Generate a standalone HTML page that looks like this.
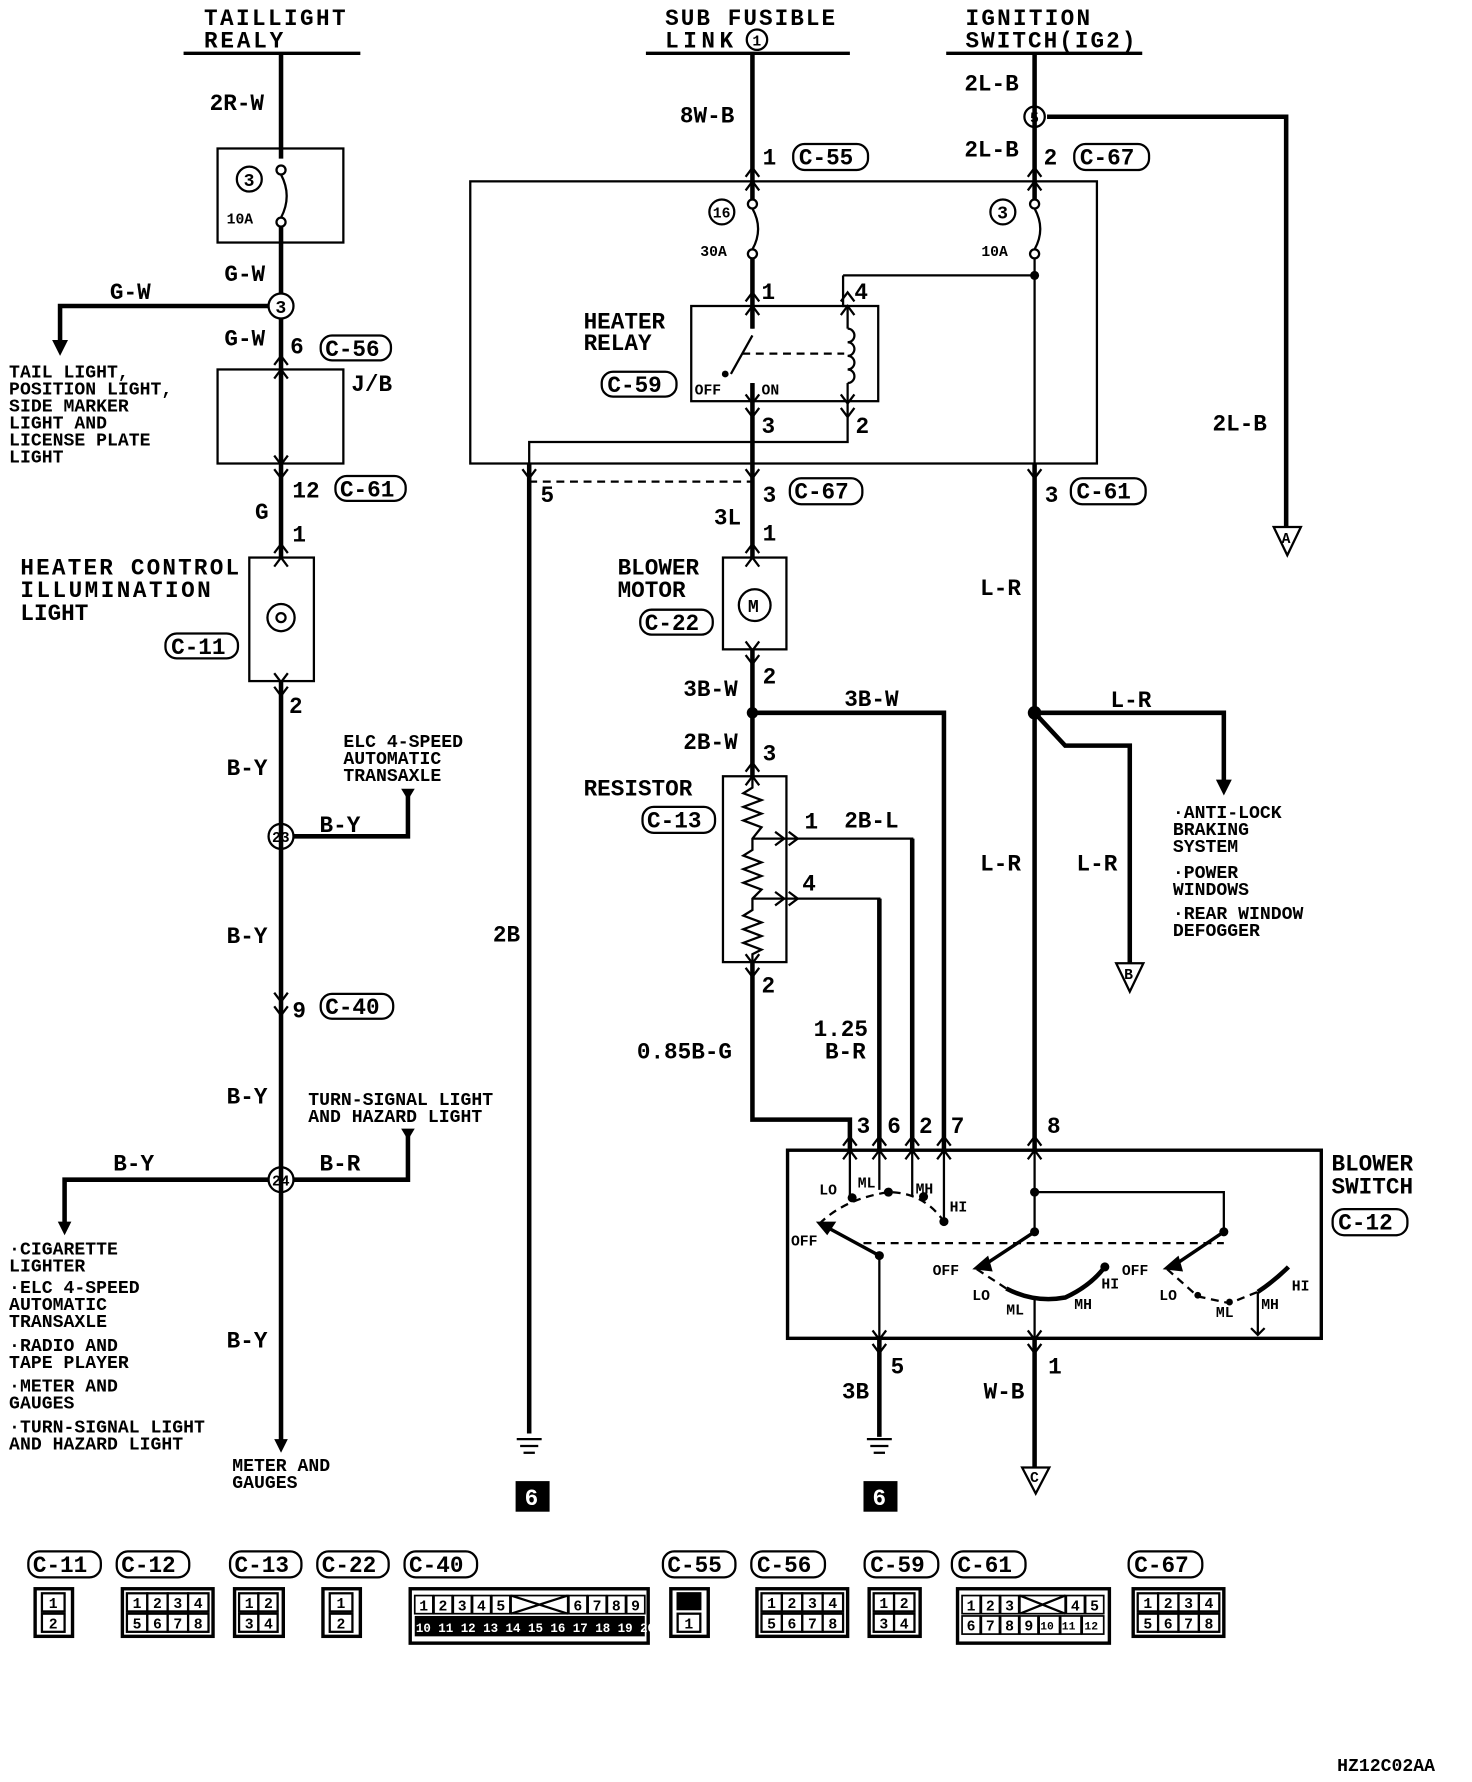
<!DOCTYPE html>
<html><head><meta charset="utf-8"><style>
html,body{margin:0;padding:0;background:#fff;}
svg{display:block;}
text{font-family:"Liberation Mono",monospace;font-weight:bold;fill:#000;}
.t{font-size:20px;}
.s{font-size:16px;}
.xs{font-size:13px;}
.w{stroke:#000;stroke-width:4;fill:none;}
.n{stroke:#000;stroke-width:2;fill:none;}
.d{stroke:#000;stroke-width:2;fill:none;stroke-dasharray:7 5;}
</style></head><body>
<svg width="1472" height="1782" viewBox="0 0 1299 1572.5" xmlns="http://www.w3.org/2000/svg">
<rect width="1299" height="1573" fill="#fff"/>

<!-- HEADERS -->
<text class="t" x="180" y="22" textLength="125">TAILLIGHT</text>
<text class="t" x="180" y="42" textLength="70">REALY</text>
<line class="n" x1="162" y1="47" x2="318" y2="47" style="stroke-width:3"/>
<text class="t" x="587" y="22" textLength="150">SUB FUSIBLE</text>
<text class="t" x="587" y="42" textLength="60">LINK</text>
<circle cx="668" cy="35" r="9" class="n"/><text class="xs" x="664" y="40">1</text>
<line class="n" x1="570" y1="47" x2="750" y2="47" style="stroke-width:3"/>
<text class="t" x="852" y="22" textLength="110">IGNITION</text>
<text class="t" x="852" y="42" textLength="150">SWITCH(IG2)</text>
<line class="n" x1="835" y1="47" x2="1008" y2="47" style="stroke-width:3"/>

<!-- LEFT COLUMN -->
<line class="w" x1="248" y1="47" x2="248" y2="140"/>
<text class="t" x="185" y="97">2R-W</text>
<rect class="n" x="192" y="131" width="111" height="83"/>
<circle class="n" cx="220" cy="158" r="11"/><text class="s" x="215" y="164">3</text>
<text class="xs" x="200" y="197">10A</text>
<circle class="n" cx="248" cy="150" r="4"/><circle class="n" cx="248" cy="196" r="4"/>
<path class="n" d="M248 154 Q258 173 248 192"/>
<line class="w" x1="248" y1="200" x2="248" y2="259"/>
<text class="t" x="198" y="248">G-W</text>
<circle class="n" cx="248" cy="270" r="11" fill="#fff"/><text class="s" x="243" y="276">3</text>
<polyline class="w" points="237,270 53,270 53,305"/>
<polygon points="46,300 60,300 53,314"/>
<text class="t" x="97" y="264">G-W</text>
<line class="w" x1="248" y1="281" x2="248" y2="326"/>
<text class="t" x="198" y="305">G-W</text>
<text class="t" x="256" y="312">6</text>
<rect class="n" x="283" y="296" width="62" height="22" rx="10"/><text class="t" x="287" y="314">C-56</text>
<rect class="n" x="192" y="326" width="111" height="83"/>
<text class="t" x="310" y="345">J/B</text>
<line class="w" x1="248" y1="326" x2="248" y2="492"/>
<text class="s" x="8" y="333">TAIL LIGHT,</text>
<text class="s" x="8" y="348">POSITION LIGHT,</text>
<text class="s" x="8" y="363">SIDE MARKER</text>
<text class="s" x="8" y="378">LIGHT AND</text>
<text class="s" x="8" y="393">LICENSE PLATE</text>
<text class="s" x="8" y="408">LIGHT</text>
<text class="t" x="258" y="439">12</text>
<rect class="n" x="296" y="420" width="62" height="22" rx="10"/><text class="t" x="300" y="438">C-61</text>
<text class="t" x="225" y="458">G</text>
<text class="t" x="258" y="478">1</text>
<rect class="n" x="220" y="492" width="57" height="109"/>
<circle class="n" cx="248" cy="545" r="12"/><path class="n" d="M244 545 a4 4 0 1 1 8 0 a4 4 0 1 1 -8 0"/>
<text class="t" x="18" y="507" textLength="193">HEATER CONTROL</text>
<text class="t" x="18" y="527" textLength="168">ILLUMINATION</text>
<text class="t" x="18" y="547">LIGHT</text>
<rect class="n" x="146" y="559" width="64" height="22" rx="10"/><text class="t" x="151" y="577">C-11</text>
<line class="w" x1="248" y1="601" x2="248" y2="1275"/>
<text class="t" x="255" y="629">2</text>
<text class="t" x="200" y="684">B-Y</text>
<text class="s" x="303" y="659">ELC 4-SPEED</text>
<text class="s" x="303" y="674">AUTOMATIC</text>
<text class="s" x="303" y="689">TRANSAXLE</text>
<polyline class="w" points="259,738 360,738 360,700"/>
<polygon points="354,696 366,696 360,706"/>
<circle class="n" cx="248" cy="738" r="11" fill="#fff"/><text class="xs" x="240" y="743">23</text>
<text class="t" x="282" y="734">B-Y</text>
<text class="t" x="200" y="832">B-Y</text>
<text class="t" x="258" y="898">9</text>
<rect class="n" x="283" y="877" width="64" height="22" rx="10"/><text class="t" x="287" y="895">C-40</text>
<text class="t" x="200" y="974">B-Y</text>
<text class="s" x="272" y="975">TURN-SIGNAL LIGHT</text>
<text class="s" x="272" y="990">AND HAZARD LIGHT</text>
<polyline class="w" points="259,1041 360,1041 360,1000"/>
<polygon points="354,996 366,996 360,1006"/>
<polyline class="w" points="237,1041 57,1041 57,1082"/>
<polygon points="51,1078 63,1078 57,1090"/>
<circle class="n" cx="248" cy="1041" r="11" fill="#fff"/><text class="xs" x="240" y="1046">24</text>
<text class="t" x="282" y="1033">B-R</text>
<text class="t" x="100" y="1033">B-Y</text>
<text class="s" x="8" y="1107">·CIGARETTE</text>
<text class="s" x="8" y="1122"> LIGHTER</text>
<text class="s" x="8" y="1141">·ELC 4-SPEED</text>
<text class="s" x="8" y="1156"> AUTOMATIC</text>
<text class="s" x="8" y="1171"> TRANSAXLE</text>
<text class="s" x="8" y="1192">·RADIO AND</text>
<text class="s" x="8" y="1207"> TAPE PLAYER</text>
<text class="s" x="8" y="1228">·METER AND</text>
<text class="s" x="8" y="1243"> GAUGES</text>
<text class="s" x="8" y="1264">·TURN-SIGNAL LIGHT</text>
<text class="s" x="8" y="1279"> AND HAZARD LIGHT</text>
<text class="t" x="200" y="1189">B-Y</text>
<polygon points="242,1270 254,1270 248,1282"/>
<text class="s" x="205" y="1298">METER AND</text>
<text class="s" x="205" y="1313">GAUGES</text>

<!-- MIDDLE -->
<line class="w" x1="664" y1="47" x2="664" y2="176"/>
<text class="t" x="600" y="108">8W-B</text>
<text class="t" x="673" y="145">1</text>
<rect class="n" x="700" y="127" width="66" height="23" rx="10"/><text class="t" x="705" y="145">C-55</text>
<rect class="n" x="415" y="160" width="553" height="249"/>
<circle class="n" cx="637" cy="187" r="11"/><text class="xs" x="629" y="192">16</text>
<text class="xs" x="618" y="226">30A</text>
<circle class="n" cx="664" cy="180" r="4"/><circle class="n" cx="664" cy="224" r="4"/>
<path class="n" d="M664 184 Q674 202 664 220"/>
<line class="w" x1="664" y1="228" x2="664" y2="409"/>
<text class="t" x="672" y="264">1</text>
<rect class="n" x="610" y="270" width="165" height="84"/>
<text class="t" x="515" y="290">HEATER</text>
<text class="t" x="515" y="309">RELAY</text>
<rect class="n" x="531" y="328" width="66" height="22" rx="10"/><text class="t" x="536" y="346">C-59</text>
<text class="xs" x="613" y="348">OFF</text><text class="xs" x="672" y="348">ON</text>
<rect x="656" y="290" width="16" height="48" fill="#fff"/>
<line class="n" x1="664" y1="270" x2="664" y2="290"/>
<line class="n" x1="664" y1="338" x2="664" y2="354"/>
<line class="n" x1="664" y1="296" x2="645" y2="330"/>
<circle cx="640" cy="330" r="3"/>
<line class="d" x1="655" y1="312" x2="745" y2="312"/>
<polyline class="n" points="744,243 744,270 748,270 748,290"/>
<path class="n" d="M748 290 a6 6 0 0 1 0 12 a6 6 0 0 1 0 12 a6 6 0 0 1 0 12 a6 6 0 0 1 0 12"/>
<line class="n" x1="748" y1="338" x2="748" y2="354"/>
<text class="t" x="754" y="264">4</text>
<line class="n" x1="744" y1="243" x2="913" y2="243"/>
<text class="t" x="672" y="382">3</text><text class="t" x="755" y="382">2</text>
<polyline class="n" points="748,354 748,390 467,390 467,409"/>
<line class="d" x1="467" y1="425" x2="664" y2="425"/>
<line class="w" x1="664" y1="409" x2="664" y2="492"/>
<line class="w" x1="467" y1="409" x2="467" y2="1265"/>
<text class="t" x="477" y="443">5</text>
<text class="t" x="673" y="443">3</text>
<rect class="n" x="697" y="422" width="64" height="23" rx="10"/><text class="t" x="701" y="440">C-67</text>
<text class="t" x="630" y="463">3L</text><text class="t" x="673" y="477">1</text>
<rect class="n" x="638" y="492" width="56" height="81"/>
<circle class="n" cx="666" cy="534" r="14"/><text class="s" x="660" y="540">M</text>
<text class="t" x="545" y="507">BLOWER</text>
<text class="t" x="545" y="527">MOTOR</text>
<rect class="n" x="565" y="538" width="64" height="22" rx="10"/><text class="t" x="569" y="556">C-22</text>
<line class="w" x1="664" y1="573" x2="664" y2="685"/>
<text class="t" x="673" y="603">2</text>
<text class="t" x="603" y="614">3B-W</text>
<circle cx="664" cy="629" r="5"/>
<polyline class="w" points="664,629 833,629 833,1015"/>
<text class="t" x="745" y="623">3B-W</text>
<text class="t" x="603" y="661">2B-W</text><text class="t" x="673" y="671">3</text>
<rect class="n" x="638" y="685" width="56" height="164"/>
<text class="t" x="515" y="702">RESISTOR</text>
<rect class="n" x="567" y="712" width="64" height="23" rx="10"/><text class="t" x="571" y="730">C-13</text>
<polyline class="n" points="664,685 664,695 656,700 672,706 656,712 672,718 656,724 672,730 664,740 664,750 656,755 672,761 656,767 672,773 656,779 672,785 664,793 664,803 656,808 672,814 656,820 672,826 656,832 672,838 664,842 664,849"/>
<polyline class="n" points="664,740 805,740 805,1015"/>
<line class="w" x1="805" y1="740" x2="805" y2="1015"/>
<polyline class="n" points="664,793 776,793 776,1015"/>
<line class="w" x1="776" y1="793" x2="776" y2="1015"/>
<text class="t" x="710" y="731">1</text><text class="t" x="745" y="730">2B-L</text>
<text class="t" x="708" y="786">4</text>
<text class="t" x="672" y="876">2</text>
<polyline class="w" points="664,849 664,988 750,988 750,1015"/>
<polyline class="n" points="750,988 750,1015"/>
<text class="t" x="562" y="934">0.85B-G</text>
<text class="t" x="718" y="914">1.25</text><text class="t" x="728" y="934">B-R</text>
<text class="t" x="756" y="1000">3</text><text class="t" x="783" y="1000">6</text><text class="t" x="811" y="1000">2</text><text class="t" x="839" y="1000">7</text><text class="t" x="924" y="1000">8</text>
<!-- pin arrows -->
<g class="n">
<path d="M744 1011 l6 -8 l6 8 M744 1023 l6 -8 l6 8"/>
<path d="M770 1011 l6 -8 l6 8 M770 1023 l6 -8 l6 8"/>
<path d="M799 1011 l6 -8 l6 8 M799 1023 l6 -8 l6 8"/>
<path d="M827 1011 l6 -8 l6 8 M827 1023 l6 -8 l6 8"/>
<path d="M907 1011 l6 -8 l6 8 M907 1023 l6 -8 l6 8"/>
<path d="M658 156 l6 -8 l6 8 M658 168 l6 -8 l6 8"/>
<path d="M907 156 l6 -8 l6 8 M907 168 l6 -8 l6 8"/>
<path d="M658 266 l6 -8 l6 8 M658 278 l6 -8 l6 8"/>
<path d="M742 266 l6 -8 l6 8 M742 278 l6 -8 l6 8"/>
<path d="M658 360 l6 8 l6 -8 M658 348 l6 8 l6 -8"/>
<path d="M742 360 l6 8 l6 -8 M742 348 l6 8 l6 -8"/>
<path d="M461 414 l6 8 l6 -8"/><path d="M658 414 l6 8 l6 -8"/><path d="M907 414 l6 8 l6 -8"/>
<path d="M658 488 l6 -8 l6 8 M658 500 l6 -8 l6 8"/>
<path d="M658 578 l6 8 l6 -8 M658 566 l6 8 l6 -8"/>
<path d="M658 681 l6 -8 l6 8 M658 693 l6 -8 l6 8"/>
<path d="M658 854 l6 8 l6 -8 M658 842 l6 8 l6 -8"/>
<path d="M684 734 l8 6 l-8 6 M696 734 l8 6 l-8 6"/>
<path d="M684 787 l8 6 l-8 6 M696 787 l8 6 l-8 6"/>
<path d="M242 322 l6 -8 l6 8 M242 334 l6 -8 l6 8"/>
<path d="M242 414 l6 8 l6 -8 M242 402 l6 8 l6 -8"/>
<path d="M242 488 l6 -8 l6 8 M242 500 l6 -8 l6 8"/>
<path d="M242 606 l6 8 l6 -8 M242 594 l6 8 l6 -8"/>
<path d="M242 876 l6 8 l6 -8 M242 888 l6 8 l6 -8"/>
<path d="M770 1186 l6 8 l6 -8 M770 1174 l6 8 l6 -8"/>
<path d="M907 1186 l6 8 l6 -8 M907 1174 l6 8 l6 -8"/>
</g>

<!-- Blower switch -->
<rect class="n" x="695" y="1015" width="471" height="166" style="stroke-width:3"/>
<text class="t" x="1175" y="1033">BLOWER</text><text class="t" x="1175" y="1053">SWITCH</text>
<rect class="n" x="1176" y="1067" width="66" height="23" rx="10"/><text class="t" x="1181" y="1085">C-12</text>
<line class="n" x1="750" y1="1015" x2="750" y2="1057"/>
<line class="n" x1="776" y1="1015" x2="776" y2="1050"/>
<line class="n" x1="805" y1="1015" x2="805" y2="1056"/>
<line class="n" x1="833" y1="1015" x2="833" y2="1078"/>
<circle cx="752" cy="1057" r="4"/><circle cx="784" cy="1052" r="4"/><circle cx="815" cy="1056" r="4"/><circle cx="833" cy="1078" r="4"/>
<path class="d" d="M723 1080 Q745 1058 784 1052 Q815 1052 833 1078"/>
<text class="xs" x="723" y="1054">LO</text><text class="xs" x="757" y="1048">ML</text><text class="xs" x="808" y="1053">MH</text><text class="xs" x="838" y="1069">HI</text>
<text class="xs" x="698" y="1099">OFF</text>
<line class="n" x1="776" y1="1108" x2="728" y2="1082" style="stroke-width:3"/>
<polygon points="720,1078 738,1078 730,1090"/>
<circle cx="776" cy="1108" r="4"/>
<line class="n" x1="776" y1="1108" x2="776" y2="1181"/>
<line class="d" x1="762" y1="1097" x2="1080" y2="1097"/>
<line class="n" x1="913" y1="1015" x2="913" y2="1087"/>
<circle cx="913" cy="1052" r="4"/>
<polyline class="n" points="913,1052 1080,1052 1080,1087"/>
<circle cx="913" cy="1087" r="4"/><circle cx="1080" cy="1087" r="4"/>
<line class="n" x1="913" y1="1087" x2="866" y2="1118" style="stroke-width:3"/>
<polygon points="858,1120 872,1108 876,1122"/>
<line class="n" x1="1080" y1="1087" x2="1034" y2="1118" style="stroke-width:3"/>
<polygon points="1026,1120 1040,1108 1044,1122"/>
<text class="xs" x="823" y="1125">OFF</text><text class="xs" x="990" y="1125">OFF</text>
<path class="d" d="M862 1120 L888 1137"/>
<path class="w" d="M888 1137 Q913 1150 940 1145 Q962 1135 975 1118"/>
<circle cx="975" cy="1118" r="4"/>
<line class="n" x1="913" y1="1147" x2="913" y2="1181"/>
<text class="xs" x="858" y="1147">LO</text><text class="xs" x="888" y="1160">ML</text><text class="xs" x="948" y="1155">MH</text><text class="xs" x="972" y="1137">HI</text>
<path class="d" d="M1030 1120 L1057 1144 L1085 1150 L1110 1140"/>
<circle cx="1057" cy="1143" r="3"/><circle cx="1085" cy="1149" r="3"/>
<path class="w" d="M1110 1140 Q1125 1130 1137 1118"/>
<line class="n" x1="1110" y1="1140" x2="1110" y2="1178"/>
<path class="n" d="M1104 1172 l6 6 l6 -6"/>
<text class="xs" x="1023" y="1147">LO</text><text class="xs" x="1073" y="1162">ML</text><text class="xs" x="1113" y="1155">MH</text><text class="xs" x="1140" y="1139">HI</text>

<!-- bottoms -->
<line class="w" x1="776" y1="1181" x2="776" y2="1268"/>
<text class="t" x="786" y="1212">5</text><text class="t" x="743" y="1234">3B</text>
<g class="n"><line x1="765" y1="1270" x2="787" y2="1270"/><line x1="768" y1="1276" x2="784" y2="1276"/><line x1="771" y1="1282" x2="781" y2="1282"/>
<line x1="456" y1="1270" x2="478" y2="1270"/><line x1="459" y1="1276" x2="475" y2="1276"/><line x1="462" y1="1282" x2="472" y2="1282"/></g>
<rect x="762" y="1307" width="30" height="27"/><text class="t" x="770" y="1328" style="fill:#fff">6</text>
<rect x="455" y="1307" width="30" height="27"/><text class="t" x="463" y="1328" style="fill:#fff">6</text>
<text class="t" x="435" y="831">2B</text>
<line class="w" x1="913" y1="1181" x2="913" y2="1295"/>
<text class="t" x="925" y="1212">1</text><text class="t" x="868" y="1234">W-B</text>
<polygon class="n" points="902,1295 926,1295 914,1318" fill="#fff"/><text class="xs" x="909" y="1308">C</text>

<!-- RIGHT -->
<line class="w" x1="913" y1="47" x2="913" y2="176"/>
<text class="t" x="851" y="80">2L-B</text>
<polyline class="w" points="924,103 1135,103 1135,465"/>
<circle class="n" cx="913" cy="103" r="9" fill="#fff"/><text class="xs" x="909" y="108">5</text>
<polygon class="n" points="1124,465 1148,465 1136,490" fill="#fff"/><text class="xs" x="1131" y="479">A</text>
<text class="t" x="1070" y="380">2L-B</text>
<text class="t" x="851" y="138">2L-B</text><text class="t" x="921" y="145">2</text>
<rect class="n" x="948" y="127" width="66" height="23" rx="10"/><text class="t" x="953" y="145">C-67</text>
<circle class="n" cx="885" cy="187" r="11"/><text class="s" x="880" y="193">3</text>
<text class="xs" x="866" y="226">10A</text>
<circle class="n" cx="913" cy="180" r="4"/><circle class="n" cx="913" cy="224" r="4"/>
<path class="n" d="M913 184 Q923 202 913 220"/>
<line class="n" x1="913" y1="228" x2="913" y2="409"/>
<circle cx="913" cy="243" r="4"/>
<line class="w" x1="913" y1="409" x2="913" y2="1015"/>
<text class="t" x="922" y="443">3</text>
<rect class="n" x="945" y="422" width="66" height="23" rx="10"/><text class="t" x="950" y="440">C-61</text>
<text class="t" x="865" y="525">L-R</text>
<circle cx="913" cy="629" r="6"/>
<polyline class="w" points="913,629 1080,629 1080,692"/>
<polygon points="1073,688 1087,688 1080,702"/>
<polyline class="w" points="913,629 940,658 997,658 997,850"/>
<polygon class="n" points="985,850 1009,850 997,875" fill="#fff"/><text class="xs" x="992" y="864">B</text>
<text class="t" x="980" y="624">L-R</text>
<text class="t" x="865" y="768">L-R</text><text class="t" x="950" y="768">L-R</text>
<text class="s" x="1035" y="722">·ANTI-LOCK</text>
<text class="s" x="1035" y="737"> BRAKING</text>
<text class="s" x="1035" y="752"> SYSTEM</text>
<text class="s" x="1035" y="775">·POWER</text>
<text class="s" x="1035" y="790"> WINDOWS</text>
<text class="s" x="1035" y="811">·REAR WINDOW</text>
<text class="s" x="1035" y="826"> DEFOGGER</text>

<!-- CONNECTOR ROW -->
<g class="n">
<rect x="25" y="1369" width="64" height="23" rx="10"/><rect x="103" y="1369" width="64" height="23" rx="10"/>
<rect x="203" y="1369" width="63" height="23" rx="10"/><rect x="280" y="1369" width="63" height="23" rx="10"/>
<rect x="357" y="1369" width="64" height="23" rx="10"/><rect x="585" y="1369" width="64" height="23" rx="10"/>
<rect x="663" y="1369" width="65" height="23" rx="10"/><rect x="763" y="1369" width="65" height="23" rx="10"/>
<rect x="840" y="1369" width="65" height="23" rx="10"/><rect x="996" y="1369" width="65" height="23" rx="10"/>
</g>
<text class="t" x="29" y="1387">C-11</text><text class="t" x="107" y="1387">C-12</text><text class="t" x="207" y="1387">C-13</text>
<text class="t" x="284" y="1387">C-22</text><text class="t" x="361" y="1387">C-40</text><text class="t" x="589" y="1387">C-55</text>
<text class="t" x="668" y="1387">C-56</text><text class="t" x="768" y="1387">C-59</text><text class="t" x="845" y="1387">C-61</text>
<text class="t" x="1001" y="1387">C-67</text>
<g style="stroke:#000;stroke-width:3;fill:#fff">
<rect x="31" y="1402" width="33" height="42"/><rect x="108" y="1402" width="80" height="42"/>
<rect x="207" y="1402" width="43" height="42"/><rect x="285" y="1402" width="33" height="42"/>
<rect x="362" y="1402" width="210" height="48"/><rect x="592" y="1402" width="33" height="42"/>
<rect x="668" y="1402" width="80" height="42"/><rect x="767" y="1402" width="45" height="42"/>
<rect x="845" y="1402" width="134" height="48"/><rect x="1000" y="1402" width="80" height="42"/>
</g>
<g style="stroke:#000;stroke-width:2;fill:#fff" font-size="12">
<rect x="37" y="1406" width="20" height="16"/><rect x="37" y="1424" width="20" height="16"/>
<rect x="291" y="1406" width="20" height="16"/><rect x="291" y="1424" width="20" height="16"/>
<rect x="598" y="1424" width="20" height="16"/><rect x="598" y="1406" width="20" height="14" fill="#000"/>
</g>
<g class="xs">
<text x="43" y="1419">1</text><text x="43" y="1437">2</text><text x="297" y="1419">1</text><text x="297" y="1437">2</text><text x="604" y="1437">1</text>
</g>
<!-- 2x4 grids -->
<g style="stroke:#000;stroke-width:2;fill:#fff">
<rect x="112" y="1406" width="18" height="16"/><rect x="130" y="1406" width="18" height="16"/><rect x="148" y="1406" width="18" height="16"/><rect x="166" y="1406" width="18" height="16"/>
<rect x="112" y="1424" width="18" height="16"/><rect x="130" y="1424" width="18" height="16"/><rect x="148" y="1424" width="18" height="16"/><rect x="166" y="1424" width="18" height="16"/>
<rect x="672" y="1406" width="18" height="16"/><rect x="690" y="1406" width="18" height="16"/><rect x="708" y="1406" width="18" height="16"/><rect x="726" y="1406" width="18" height="16"/>
<rect x="672" y="1424" width="18" height="16"/><rect x="690" y="1424" width="18" height="16"/><rect x="708" y="1424" width="18" height="16"/><rect x="726" y="1424" width="18" height="16"/>
<rect x="1004" y="1406" width="18" height="16"/><rect x="1022" y="1406" width="18" height="16"/><rect x="1040" y="1406" width="18" height="16"/><rect x="1058" y="1406" width="18" height="16"/>
<rect x="1004" y="1424" width="18" height="16"/><rect x="1022" y="1424" width="18" height="16"/><rect x="1040" y="1424" width="18" height="16"/><rect x="1058" y="1424" width="18" height="16"/>
<rect x="211" y="1406" width="17" height="16"/><rect x="228" y="1406" width="17" height="16"/><rect x="211" y="1424" width="17" height="16"/><rect x="228" y="1424" width="17" height="16"/>
<rect x="771" y="1406" width="18" height="16"/><rect x="789" y="1406" width="18" height="16"/><rect x="771" y="1424" width="18" height="16"/><rect x="789" y="1424" width="18" height="16"/>
</g>
<g class="xs">
<text x="117" y="1419">1</text><text x="135" y="1419">2</text><text x="153" y="1419">3</text><text x="171" y="1419">4</text>
<text x="117" y="1437">5</text><text x="135" y="1437">6</text><text x="153" y="1437">7</text><text x="171" y="1437">8</text>
<text x="677" y="1419">1</text><text x="695" y="1419">2</text><text x="713" y="1419">3</text><text x="731" y="1419">4</text>
<text x="677" y="1437">5</text><text x="695" y="1437">6</text><text x="713" y="1437">7</text><text x="731" y="1437">8</text>
<text x="1009" y="1419">1</text><text x="1027" y="1419">2</text><text x="1045" y="1419">3</text><text x="1063" y="1419">4</text>
<text x="1009" y="1437">5</text><text x="1027" y="1437">6</text><text x="1045" y="1437">7</text><text x="1063" y="1437">8</text>
<text x="216" y="1419">1</text><text x="233" y="1419">2</text><text x="216" y="1437">3</text><text x="233" y="1437">4</text>
<text x="776" y="1419">1</text><text x="794" y="1419">2</text><text x="776" y="1437">3</text><text x="794" y="1437">4</text>
</g>
<!-- C-40 -->
<g style="stroke:#000;stroke-width:1.5;fill:#fff">
<rect x="366" y="1408" width="16" height="16"/><rect x="383" y="1408" width="16" height="16"/><rect x="400" y="1408" width="16" height="16"/><rect x="417" y="1408" width="16" height="16"/><rect x="434" y="1408" width="16" height="16"/>
<rect x="451" y="1408" width="50" height="16"/>
<rect x="502" y="1408" width="16" height="16"/><rect x="519" y="1408" width="16" height="16"/><rect x="536" y="1408" width="16" height="16"/><rect x="553" y="1408" width="16" height="16"/>
</g>
<path class="n" d="M451 1408 L501 1424 M451 1424 L501 1408"/>
<g style="fill:#000;stroke:none">
<rect x="366" y="1426" width="203" height="18"/>
</g>
<g font-size="11" style="fill:#fff">
<text x="367" y="1440" style="fill:#fff">10 11 12 13 14 15 16 17 18 19 20</text>
</g>
<g class="xs"><text x="370" y="1421">1</text><text x="387" y="1421">2</text><text x="404" y="1421">3</text><text x="421" y="1421">4</text><text x="438" y="1421">5</text><text x="506" y="1421">6</text><text x="523" y="1421">7</text><text x="540" y="1421">8</text><text x="557" y="1421">9</text></g>
<!-- C-61 -->
<g style="stroke:#000;stroke-width:1.5;fill:#fff">
<rect x="849" y="1408" width="16" height="16"/><rect x="866" y="1408" width="16" height="16"/><rect x="883" y="1408" width="16" height="16"/>
<rect x="900" y="1408" width="40" height="16"/>
<rect x="941" y="1408" width="16" height="16"/><rect x="958" y="1408" width="16" height="16"/>
<rect x="849" y="1426" width="16" height="16"/><rect x="866" y="1426" width="16" height="16"/><rect x="883" y="1426" width="16" height="16"/><rect x="900" y="1426" width="16" height="16"/><rect x="917" y="1426" width="18" height="16"/><rect x="936" y="1426" width="18" height="16"/><rect x="955" y="1426" width="19" height="16"/>
</g>
<path class="n" d="M900 1408 L940 1424 M900 1424 L940 1408"/>
<g class="xs"><text x="853" y="1421">1</text><text x="870" y="1421">2</text><text x="887" y="1421">3</text><text x="945" y="1421">4</text><text x="962" y="1421">5</text>
<text x="853" y="1439">6</text><text x="870" y="1439">7</text><text x="887" y="1439">8</text><text x="904" y="1439">9</text></g>
<g font-size="10"><text x="918" y="1438">10</text><text x="937" y="1438">11</text><text x="957" y="1438">12</text></g>

<text class="s" x="1180" y="1563">HZ12C02AA</text>
</svg>
</body></html>
